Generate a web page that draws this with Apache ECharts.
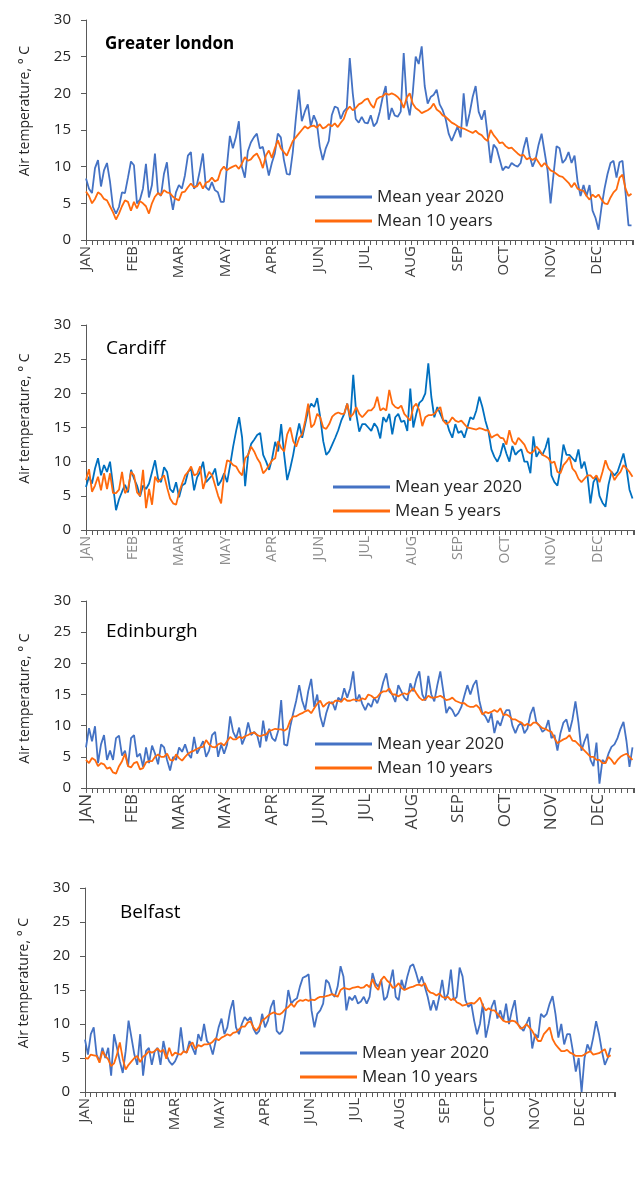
<!DOCTYPE html>
<html>
<head>
<meta charset="utf-8">
<script src="https://cdn.jsdelivr.net/npm/echarts@6/dist/echarts.min.js"></script>
<style>
  html, body { margin: 0; padding: 0; background: #fff; }
  #chart { width: 635px; height: 1177px; }
</style>
</head>
<body>
<div id="chart"></div>
<script>
// month labels as printed on the original axis (MAY / APR order kept)
var monthLabels = ["JAN", "FEB", "MAR", "MAY", "APR", "JUN", "JUL", "AUG", "SEP", "OCT", "NOV", "DEC"];
var yearName = "Mean year 2020";
// one value every 2 days
var dayStep = 2;

var londonYear = [
  8.4,7.0,6.4,9.8,10.9,7.3,9.5,10.5,8.0,4.5,
  3.6,4.5,6.5,6.4,8.5,10.7,10.2,5.0,5.5,7.0,
  10.4,5.8,7.5,11.8,6.5,6.0,9.0,10.6,6.5,4.1,
  6.5,7.5,7.0,8.8,11.5,12.0,7.0,7.5,9.5,11.8,
  7.2,6.8,7.9,6.8,6.5,5.2,5.2,10.0,14.2,12.5,
  14.0,16.2,10.0,8.5,12.1,13.3,14.0,14.5,12.5,12.7,
  10.8,8.8,10.5,11.8,14.5,14.0,11.0,9.0,8.9,12.0,
  16.5,20.5,16.2,17.5,18.5,15.5,17.0,16.0,12.7,10.9,
  12.5,13.5,17.0,18.2,18.0,16.5,17.5,18.0,24.8,20.0,
  16.5,16.0,16.8,16.0,15.9,17.0,15.5,16.0,17.5,19.5,
  21.0,16.4,18.0,17.0,16.8,17.5,25.5,19.0,17.0,20.0,
  25.0,24.0,26.4,21.0,18.6,19.5,19.8,20.5,18.5,17.7,
  16.5,14.5,13.5,14.5,15.5,14.0,20.0,15.5,17.3,19.5,
  21.0,17.5,16.4,17.7,14.3,10.5,13.0,12.5,11.0,9.5,
  10.0,9.8,10.5,10.2,10.0,10.5,12.5,14.0,11.5,10.0,
  11.0,13.0,14.5,12.0,9.5,5.0,9.0,12.8,12.5,10.5,
  11.0,12.0,10.5,11.5,8.0,6.0,7.5,6.0,7.5,4.0,
  3.0,1.4,4.5,7.0,9.0,10.5,10.8,8.5,10.6,10.8,
  6.5,2.0,2.0
];
var londonMean = [
  6.6,6.0,5.0,5.6,6.5,6.2,5.6,5.4,4.6,3.8,
  2.8,3.6,4.6,5.4,5.2,4.0,5.2,4.3,5.3,5.0,
  4.6,3.6,5.0,5.9,6.4,6.1,6.8,6.5,6.4,5.9,
  5.6,5.4,6.5,6.6,7.2,7.7,7.2,7.3,7.9,7.0,
  7.8,8.0,8.5,8.0,8.2,9.5,10.0,9.5,9.8,10.0,
  10.2,9.7,10.4,11.3,10.8,11.0,11.5,11.8,11.0,9.8,
  11.5,12.2,11.2,12.5,13.6,12.5,12.0,11.5,12.5,13.5,
  14.0,14.5,15.0,15.5,15.2,15.5,15.6,15.3,15.8,15.2,
  15.4,15.8,15.5,15.9,15.4,16.0,16.5,17.7,18.2,17.7,
  18.0,18.5,18.7,19.1,19.3,18.5,18.0,19.2,19.5,19.6,
  20.0,19.8,20.0,19.8,19.5,19.0,18.0,19.4,20.0,18.6,
  18.0,17.7,17.3,17.5,17.7,18.0,18.6,17.8,17.5,17.0,
  16.8,16.4,16.0,15.8,15.5,15.3,15.2,15.0,14.8,14.6,
  14.9,14.5,14.3,13.8,13.5,15.0,14.3,13.8,13.2,13.3,
  12.8,12.5,12.6,12.2,11.8,11.5,11.6,11.0,11.2,10.9,
  11.2,10.6,10.0,10.5,10.0,9.5,9.3,9.0,8.7,8.6,
  8.2,7.8,7.2,7.8,7.0,6.8,6.7,6.0,5.5,6.2,
  5.8,6.2,5.5,5.0,4.9,5.8,6.5,6.9,8.5,8.9,
  7.0,6.0,6.3
];

var cardiffYear = [
  6.3,7.8,6.8,9.0,10.5,8.0,9.5,8.5,10.0,6.5,
  2.9,4.5,5.6,6.6,5.5,8.8,7.5,6.5,4.9,6.5,
  6.0,6.8,8.5,10.2,7.5,7.0,9.2,8.5,6.0,5.5,
  7.0,4.8,6.5,6.8,8.5,9.0,5.8,7.7,8.5,10.0,
  7.0,7.5,8.0,9.0,6.5,7.2,8.3,7.0,9.5,12.2,
  14.5,16.5,13.5,6.4,11.0,12.6,13.2,13.9,14.2,11.0,
  10.0,8.8,10.5,12.9,11.5,15.5,11.0,7.3,9.0,11.0,
  13.5,15.6,13.5,15.5,17.5,18.5,18.0,19.3,16.5,13.0,
  11.0,11.5,12.5,13.5,14.6,16.0,17.0,18.5,16.0,22.7,
  17.0,14.4,15.5,15.5,15.0,14.5,15.6,15.0,13.4,16.5,
  15.8,17.0,14.0,16.5,17.0,15.8,16.0,14.5,20.7,15.0,
  17.0,18.6,19.0,20.0,24.4,19.5,16.5,18.0,17.0,16.0,
  16.0,14.5,13.5,15.5,14.2,14.5,13.5,15.0,16.5,16.2,
  17.5,19.5,18.0,16.0,14.5,11.8,10.7,10.0,11.0,12.7,
  11.2,10.0,12.3,11.0,11.5,11.8,10.0,10.0,8.3,13.7,
  10.7,11.5,11.0,12.0,13.5,8.0,7.0,6.5,9.0,12.5,
  11.0,11.0,10.5,10.0,11.8,9.0,10.0,8.0,3.9,7.0,
  7.8,5.0,4.0,3.4,6.6,8.5,8.0,8.5,9.8,11.2,
  9.0,5.9,4.6
];
var cardiffMean = [
  7.3,8.9,5.6,6.5,7.8,5.8,8.3,6.0,8.3,5.4,
  5.4,5.9,8.5,5.4,6.0,8.5,8.0,5.5,5.0,8.8,
  3.2,6.0,3.7,7.8,7.0,7.5,8.0,6.2,4.6,3.9,
  3.7,5.5,6.8,8.0,8.5,9.3,8.0,8.2,9.3,6.0,
  7.5,8.5,8.0,6.5,5.0,3.9,8.0,10.2,10.0,9.5,
  9.3,8.5,8.0,10.5,11.0,12.2,11.5,10.5,9.8,8.3,
  8.8,9.5,10.2,10.5,13.0,12.0,11.5,14.0,15.0,13.0,
  12.2,13.5,14.0,16.0,18.5,15.0,15.5,17.0,16.5,15.0,
  14.8,15.5,16.6,17.0,17.2,17.0,17.0,18.5,16.5,17.0,
  18.0,17.0,16.5,17.0,17.5,17.5,18.0,19.5,17.5,17.8,
  17.5,20.5,18.5,18.0,17.8,18.2,17.0,16.5,16.0,18.0,
  18.5,17.5,15.2,16.5,16.8,16.8,17.0,17.5,18.0,16.0,
  15.5,15.8,16.5,16.0,15.8,16.0,15.5,15.0,14.9,14.8,
  14.7,14.9,14.8,14.6,14.6,13.5,13.8,14.0,13.5,13.4,
  12.5,14.6,13.0,12.5,13.5,13.0,12.5,11.5,11.2,11.5,
  12.2,11.7,11.0,10.8,10.5,9.8,10.0,8.5,8.3,9.5,
  10.0,10.7,9.0,8.5,7.5,7.0,7.5,8.0,8.0,7.5,
  8.0,7.0,8.5,10.2,9.0,8.5,7.3,8.0,8.5,9.5,
  9.0,8.5,7.8
];

var edinburghYear = [
  6.5,9.6,7.5,9.9,4.0,7.0,8.5,4.5,6.0,4.5,
  8.0,8.4,5.2,6.0,3.5,8.0,8.5,5.0,5.5,3.4,
  6.5,4.0,6.8,5.5,3.8,7.0,6.5,4.5,2.8,5.0,
  4.5,6.5,5.8,7.0,5.5,4.8,8.2,5.5,6.5,7.5,
  5.0,6.0,8.5,9.0,5.0,7.0,5.5,7.0,11.5,9.0,
  8.0,9.7,7.0,8.2,10.5,8.5,9.0,8.5,6.5,10.8,
  7.5,9.5,8.0,7.5,9.2,14.1,7.0,6.8,9.8,12.0,
  14.0,16.5,14.0,12.5,15.5,17.5,13.0,15.0,11.5,9.8,
  12.0,13.5,13.8,12.5,14.5,14.0,16.0,14.5,16.0,18.7,
  13.8,15.0,13.5,12.5,13.6,13.0,14.5,13.6,15.0,17.0,
  18.4,15.5,15.0,13.8,16.5,15.5,14.5,14.0,16.8,15.5,
  17.5,18.7,15.0,14.0,18.0,15.0,13.9,16.5,18.7,15.5,
  12.0,13.0,12.5,11.5,12.0,13.0,14.8,16.5,15.0,16.5,
  17.3,14.0,12.0,11.5,10.5,12.0,8.8,10.8,10.0,11.6,
  12.5,12.5,10.0,8.8,10.0,10.5,8.8,9.5,11.8,13.0,
  10.5,10.0,9.0,9.4,10.9,8.0,8.5,6.0,8.8,10.5,
  11.0,9.0,11.0,13.9,10.5,6.0,7.5,8.7,4.5,3.5,
  7.3,0.7,4.5,4.0,5.5,6.6,7.0,8.0,9.5,10.6,
  7.5,3.4,6.5
];
var edinburghMean = [
  4.5,4.0,4.8,4.5,3.5,4.0,3.8,3.1,3.3,2.5,
  2.3,3.5,4.3,5.5,3.5,3.3,4.0,4.2,3.0,3.2,
  4.1,4.3,4.3,5.0,5.4,5.0,5.0,5.5,4.5,4.4,
  5.4,4.8,4.4,5.0,5.5,5.8,6.0,6.3,6.5,6.6,
  7.7,7.0,6.6,6.5,7.0,7.2,6.8,7.5,8.2,7.8,
  7.8,8.2,8.0,8.3,8.5,8.8,8.9,8.5,8.3,8.5,
  8.6,9.2,9.3,9.5,9.4,9.4,9.2,9.5,10.8,11.5,
  11.5,11.8,12.0,12.3,12.5,12.0,12.8,13.5,14.0,13.0,
  13.5,13.8,13.5,14.0,14.0,13.8,14.4,14.0,14.0,14.2,
  14.1,14.0,14.4,14.2,15.0,14.8,14.4,14.6,15.2,15.5,
  15.5,16.0,15.0,15.0,14.7,15.0,15.2,15.0,15.5,16.0,
  15.2,14.5,14.1,14.2,14.8,14.5,14.5,14.6,14.8,14.5,
  14.1,14.2,14.5,14.0,13.8,13.6,13.6,13.2,13.0,13.0,
  13.3,12.8,11.8,12.2,12.0,12.2,12.5,12.2,12.8,11.7,
  11.8,11.5,11.0,11.0,10.7,10.5,10.0,10.3,10.0,10.5,
  10.5,10.0,9.6,9.5,9.2,9.0,8.0,7.2,7.5,7.8,
  8.0,8.5,7.6,7.5,7.0,6.5,6.0,5.5,5.0,5.0,
  4.5,4.5,4.0,4.0,5.0,4.5,3.8,4.5,5.0,5.3,
  5.5,5.0,4.5
];

var belfastYear = [
  7.7,5.5,8.5,9.5,5.5,4.5,6.5,5.0,6.5,2.4,
  8.5,6.5,4.5,2.8,6.0,10.5,8.0,5.5,4.0,8.5,
  2.4,6.0,6.5,4.0,6.0,6.5,4.0,7.5,5.5,4.5,
  4.0,4.5,5.5,9.5,6.0,5.8,7.5,6.5,5.5,8.5,
  7.5,10.0,7.5,7.0,5.5,7.5,9.5,10.8,8.5,9.5,
  12.0,13.5,9.5,8.5,10.0,11.0,10.5,11.0,9.3,8.5,
  9.0,11.5,9.5,10.5,12.5,13.5,9.0,8.5,9.0,11.5,
  15.0,13.0,13.5,13.8,15.5,16.8,17.0,17.3,12.0,9.5,
  11.5,12.0,13.0,16.5,16.0,14.5,14.0,15.5,18.5,17.0,
  12.0,14.0,13.5,14.2,13.0,13.3,14.0,13.0,14.0,17.5,
  16.0,15.5,16.5,13.5,14.0,16.0,18.0,14.0,13.5,16.5,
  15.0,17.0,18.5,18.8,17.5,16.0,17.0,15.5,14.0,12.0,
  13.5,12.0,14.0,16.5,13.5,14.5,18.0,13.5,14.0,18.3,
  17.0,13.5,12.5,13.0,10.5,8.5,10.0,13.0,8.0,10.0,
  12.5,13.5,10.8,12.0,10.5,13.0,10.0,12.0,13.5,10.0,
  9.5,9.0,10.0,11.0,6.4,8.5,8.0,11.5,11.0,11.5,
  13.0,14.1,11.5,8.0,10.0,7.0,8.5,8.5,6.0,3.0,
  5.0,0.0,5.0,7.0,6.0,8.0,10.4,8.5,6.0,4.0,
  5.0,6.5
];
var belfastMean = [
  5.0,4.9,5.5,5.4,5.3,4.3,6.0,5.3,4.8,3.8,
  4.2,5.5,7.3,4.9,3.3,4.0,4.5,5.0,5.3,4.4,
  5.2,5.5,6.0,5.8,6.0,6.4,5.9,6.2,4.9,6.5,
  5.3,5.8,5.6,5.5,6.0,5.8,6.8,7.3,6.3,6.9,
  6.7,7.0,7.0,7.1,7.4,7.9,7.6,8.0,8.2,8.5,
  8.3,8.7,8.8,9.2,9.6,9.6,10.2,10.4,9.5,9.0,
  9.6,10.5,10.8,11.2,11.5,11.7,11.5,11.4,11.7,12.2,
  12.5,13.0,12.5,13.2,13.5,13.4,13.6,13.4,13.6,13.5,
  13.8,14.0,14.0,14.1,14.2,14.4,14.2,14.0,15.0,15.3,
  15.2,15.1,15.3,15.4,15.5,15.3,15.4,15.8,15.4,16.6,
  15.5,15.0,16.5,17.0,16.4,16.0,15.3,15.5,16.0,15.3,
  15.0,15.2,15.4,15.5,15.7,15.8,15.6,16.0,15.0,14.6,
  14.5,14.2,14.5,14.0,13.8,14.0,13.5,13.8,13.2,13.0,
  12.7,12.8,13.0,13.1,13.0,13.4,13.9,12.7,12.0,12.3,
  12.0,12.0,11.5,11.0,10.5,10.3,10.3,10.5,10.4,10.0,
  9.3,9.5,10.0,9.5,9.0,8.2,7.5,7.5,8.5,9.0,
  9.5,7.8,7.0,6.5,6.0,6.0,6.2,5.8,5.6,5.3,
  5.3,5.3,5.5,5.8,6.0,5.5,5.6,5.7,6.0,6.3,
  5.1,5.4
];

// layout of the four stacked panels
var panels = [
  { title: "Greater london", bold: true, titleSize: 17, titleLeft: 105, titleTop: 32,
    year: londonYear, mean: londonMean, meanName: "Mean 10 years",
    grid: { left: 86, top: 20, height: 220, right: 2 },
    xFont: 15, xColor: "#404040", yearColor: "#4472C4",
    legend: { left: 315, top: 187 }, nameShift: -19 },
  { title: "Cardiff", bold: false, titleSize: 19, titleLeft: 106, titleTop: 337,
    year: cardiffYear, mean: cardiffMean, meanName: "Mean 5 years",
    grid: { left: 86, top: 325, height: 205, right: 1 },
    xFont: 14, xColor: "#8c8c8c", yearColor: "#0070C0",
    legend: { left: 333, top: 477 }, nameShift: -9 },
  { title: "Edinburgh", bold: false, titleSize: 19, titleLeft: 106, titleTop: 620,
    year: edinburghYear, mean: edinburghMean, meanName: "Mean 10 years",
    grid: { left: 86, top: 601, height: 187, right: 1 },
    xFont: 17, xColor: "#404040", yearColor: "#4472C4",
    legend: { left: 315, top: 734 }, nameShift: 4 },
  { title: "Belfast", bold: false, titleSize: 19, titleLeft: 120, titleTop: 901,
    year: belfastYear, mean: belfastMean, meanName: "Mean 10 years",
    grid: { left: 85, top: 888, height: 204, right: 20 },
    xFont: 15, xColor: "#404040", yearColor: "#4472C4",
    legend: { left: 300, top: 1043 }, nameShift: -7 }
];

var FONT = "'Open Sans', 'Liberation Sans', sans-serif";
var AXIS = "#595959";
var ORANGE = "#FF6A0D";

function toPairs (arr) {
  return arr.map(function (v, i) { return [i * dayStep, v]; });
}

var titles = [], grids = [], xAxes = [], yAxes = [], legends = [], series = [];

panels.forEach(function (p, i) {
  titles.push({
    text: p.title, left: p.titleLeft, top: p.titleTop, padding: 0,
    textStyle: { fontFamily: FONT, fontSize: p.titleSize, fontWeight: p.bold ? "bold" : "normal",
                 color: "#000", lineHeight: 24 }
  });
  grids.push(p.grid);
  xAxes.push({
    gridIndex: i, type: "value", min: 0, max: 365, interval: 31,
    axisLine: { show: true, onZero: false, lineStyle: { color: AXIS, width: 1 } },
    axisTick: { show: true, length: 5, lineStyle: { color: AXIS } },
    minorTick: { show: true, splitNumber: 8, length: 5, lineStyle: { color: AXIS } },
    splitLine: { show: false },
    minorSplitLine: { show: false },
    axisLabel: {
      rotate: 90, margin: 6, fontSize: p.xFont, color: p.xColor, fontFamily: FONT,
      showMaxLabel: false,
      formatter: function (v) {
        var k = v / 31;
        return (v % 31 === 0 && k < monthLabels.length) ? monthLabels[k] : "";
      }
    }
  });
  var shift = p.nameShift;
  yAxes.push({
    gridIndex: i, type: "value", min: 0, max: 30, interval: 5,
    name: "Air temperature, ° C", nameLocation: "middle", nameGap: 54,
    nameMoveOverlap: false,
    nameTextStyle: {
      fontFamily: FONT, fontSize: 14, color: "#262626",
      padding: shift < 0 ? [0, 0, 0, -2 * shift] : [0, 2 * shift, 0, 0]
    },
    axisLine: { show: true, lineStyle: { color: AXIS, width: 1 } },
    axisTick: { show: true, length: 5, lineStyle: { color: AXIS } },
    splitLine: { show: false },
    axisLabel: { fontSize: 15, color: "#262626", margin: 15, fontFamily: FONT }
  });
  legends.push({
    orient: "vertical", left: p.legend.left, top: p.legend.top, padding: 0,
    icon: "rect", itemWidth: 57, itemHeight: 3, itemGap: 4,
    selectedMode: false,
    textStyle: { fontFamily: FONT, fontSize: 17, color: "#262626", lineHeight: 20 },
    data: [
      { name: yearName, itemStyle: { color: "#4472C4" } },
      { name: p.meanName, itemStyle: { color: ORANGE } }
    ]
  });
  series.push({
    name: yearName, type: "line", xAxisIndex: i, yAxisIndex: i,
    symbol: "none", showSymbol: false, z: 2,
    itemStyle: { color: p.yearColor },
    lineStyle: { color: p.yearColor, width: 1.8 },
    data: toPairs(p.year)
  });
  series.push({
    name: p.meanName, type: "line", xAxisIndex: i, yAxisIndex: i,
    symbol: "none", showSymbol: false, z: 3,
    itemStyle: { color: ORANGE },
    lineStyle: { color: ORANGE, width: 1.8 },
    data: toPairs(p.mean)
  });
});

var myChart = echarts.init(document.getElementById("chart"));
myChart.setOption({
  animation: false,
  backgroundColor: "#fff",
  title: titles,
  grid: grids,
  xAxis: xAxes,
  yAxis: yAxes,
  legend: legends,
  series: series
});
</script>
</body>
</html>
